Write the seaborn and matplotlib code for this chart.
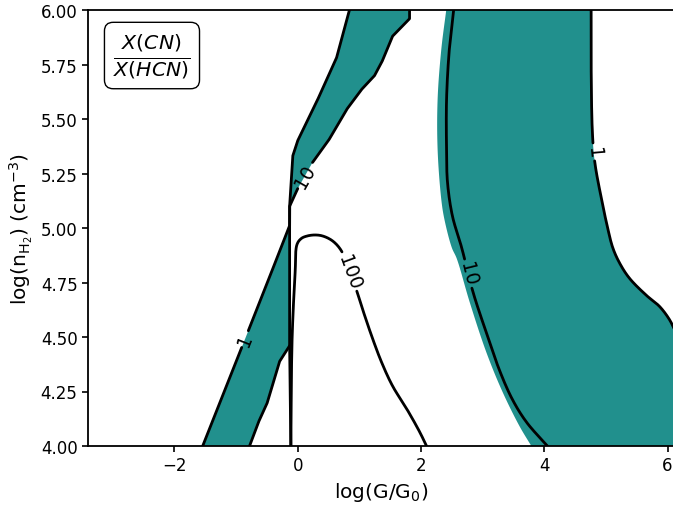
import numpy as np
import matplotlib
matplotlib.use("Agg")
import matplotlib.pyplot as plt
import seaborn as sns

# ---------------- data ----------------
# x = log(G/G0), y = log(n_H2)
# contour X(CN)/X(HCN) = 1, left branch
c1_left_x = [-1.54, -1.05, -0.63, -0.13, -0.13, -0.08, 0.00, 0.31, 0.63, 0.84]
c1_left_y = [4.00, 4.35, 4.65, 5.01, 5.10, 5.33, 5.40, 5.58, 5.78, 6.00]
# contour = 10, left branch (from top down)
c10_left_x = [1.815, 1.815, 1.54, 1.38, 1.25, 1.05, 0.81, 0.52, 0.24, 0.00, -0.13,
              -0.13, -0.29, -0.49, -0.62, -0.78]
c10_left_y = [6.00, 5.96, 5.88, 5.77, 5.70, 5.64, 5.55, 5.41, 5.30, 5.18, 5.10,
              4.46, 4.39, 4.20, 4.12, 4.00]
# short vertical contour piece at the grid edge
c10_stub_x = [-0.13, -0.12, -0.11]
c10_stub_y = [4.46, 4.20, 4.00]
# contour = 100
c100_x = [-0.11, -0.09, -0.04, -0.01, 0.06, 0.15, 0.28, 0.41, 0.57, 0.71, 0.84, 0.96, 1.05,
          1.20, 1.36, 1.54, 1.77, 1.98, 2.09]
c100_y = [4.00, 4.49, 4.80, 4.925, 4.952, 4.963, 4.968, 4.963, 4.94, 4.895, 4.80, 4.71, 4.63,
          4.505, 4.385, 4.275, 4.17, 4.064, 4.00]
# contour = 10, right branch
c10_right_x = [2.53, 2.46, 2.415, 2.415, 2.43, 2.51, 2.66, 2.84, 3.06, 3.27, 3.48, 3.71, 4.05]
c10_right_y = [6.00, 5.82, 5.59, 5.36, 5.21, 5.055, 4.91, 4.71, 4.52, 4.35, 4.215, 4.11, 4.00]
# contour = 1, right branch
c1_right_x = [4.76, 4.76, 4.78, 4.82, 4.93, 5.02, 5.11, 5.22, 5.38, 5.66, 5.87, 6.03, 6.12]
c1_right_y = [6.00, 5.75, 5.44, 5.30, 5.13, 5.01, 4.91, 4.84, 4.77, 4.69, 4.64, 4.58, 4.53]
# left edge of the filled (1-10) region on the right
fill_right_edge_x = [2.41, 2.33, 2.27, 2.27, 2.33, 2.38, 2.50, 2.58, 2.79, 3.06, 3.32, 3.60, 3.79]
fill_right_edge_y = [6.00, 5.82, 5.59, 5.36, 5.13, 5.04, 4.91, 4.86, 4.66, 4.43, 4.25, 4.09, 4.00]

# contour labels: text and position on the line
label_text = ["1", "10", "100", "10", "1"]
label_x = [-0.86, 0.12, 0.84, 2.76, 4.80]
label_y = [4.49, 5.24, 4.80, 4.79, 5.35]

x_lim = (-3.4, 6.12)
y_lim = (4.0, 6.0)
x_ticks = [-2, 0, 2, 4, 6]
y_ticks = [4.00, 4.25, 4.50, 4.75, 5.00, 5.25, 5.50, 5.75, 6.00]

# ---------------- figure ----------------
sns.set_style("ticks")
plt.rcParams['font.family'] = ['DejaVu Sans']
plt.rcParams['mathtext.fontset'] = 'dejavusans'
for k in ['text.color', 'axes.labelcolor', 'xtick.color', 'ytick.color', 'axes.edgecolor']:
    plt.rcParams[k] = 'black'

fig = plt.figure(figsize=(6.73, 5.06), dpi=100)
ax = fig.add_axes([88 / 673, 59 / 506, 587 / 673, 436 / 506])
ax.set_xlim(*x_lim)
ax.set_ylim(*y_lim)


def smooth(xs, ys, n=12):
    """centripetal Catmull-Rom through the points (in display space)."""
    P = ax.transData.transform(np.column_stack([xs, ys]))
    P = np.vstack([2 * P[0] - P[1], P, 2 * P[-1] - P[-2]])
    out = [P[1]]
    for i in range(1, len(P) - 2):
        p0, p1, p2, p3 = P[i - 1], P[i], P[i + 1], P[i + 2]
        t0 = 0.0
        t1 = t0 + max(np.linalg.norm(p1 - p0), 1e-6) ** 0.5
        t2 = t1 + max(np.linalg.norm(p2 - p1), 1e-6) ** 0.5
        t3 = t2 + max(np.linalg.norm(p3 - p2), 1e-6) ** 0.5
        for t in np.linspace(t1, t2, n + 1)[1:]:
            a1 = (t1 - t) / (t1 - t0) * p0 + (t - t0) / (t1 - t0) * p1
            a2 = (t2 - t) / (t2 - t1) * p1 + (t - t1) / (t2 - t1) * p2
            a3 = (t3 - t) / (t3 - t2) * p2 + (t - t2) / (t3 - t2) * p3
            b1 = (t2 - t) / (t2 - t0) * a1 + (t - t0) / (t2 - t0) * a2
            b2 = (t3 - t) / (t3 - t1) * a2 + (t - t1) / (t3 - t1) * a3
            c = (t2 - t) / (t2 - t1) * b1 + (t - t1) / (t2 - t1) * b2
            out.append(c)
    D = ax.transData.inverted().transform(np.array(out))
    return D[:, 0], D[:, 1]


teal = '#21908d'
# left filled band (between levels 1 and 10)
ax.fill(np.r_[c1_left_x, c10_left_x], np.r_[c1_left_y, c10_left_y],
        color=teal, lw=0, zorder=1)
# right filled band
ex, ey = smooth(fill_right_edge_x, fill_right_edge_y)
rx, ry = smooth(c1_right_x, c1_right_y)
ax.fill(np.r_[ex, [x_lim[1] + 0.5], rx[::-1]],
        np.r_[ey, [y_lim[0]], ry[::-1]],
        color=teal, lw=0, zorder=1)

LW = 2.0
LABEL_FS = 13.5


def draw_contour(xs, ys, labels=(), smooth_line=False):
    if smooth_line:
        xs, ys = smooth(xs, ys)
    pts = ax.transData.transform(np.column_stack([xs, ys]))
    seg = np.hypot(*np.diff(pts, axis=0).T)
    s = np.r_[0, np.cumsum(seg)]
    sd = np.r_[np.arange(0, s[-1], 0.5), s[-1]]
    dx = np.interp(sd, s, pts[:, 0])
    dy = np.interp(sd, s, pts[:, 1])
    keep = np.ones_like(sd, dtype=bool)
    for txt, lx, ly in labels:
        lp = ax.transData.transform((lx, ly))
        i = int(np.argmin(np.hypot(dx - lp[0], dy - lp[1])))
        half = 0.5 * len(txt) * 0.636 * LABEL_FS * fig.dpi / 72 + 3
        keep &= np.abs(sd - sd[i]) > half
        j0 = max(i - 8, 0)
        j1 = min(i + 8, len(sd) - 1)
        ang = np.degrees(np.arctan2(dy[j1] - dy[j0], dx[j1] - dx[j0]))
        if ang > 90:
            ang -= 180
        if ang < -90:
            ang += 180
        tx, ty = ax.transData.inverted().transform((dx[i], dy[i]))
        ax.text(tx, ty, txt, rotation=ang, rotation_mode='anchor',
                ha='center', va='center', fontsize=LABEL_FS, color='black', zorder=4)
    data = ax.transData.inverted().transform(np.column_stack([dx, dy]))
    idx = np.where(keep)[0]
    if len(idx) == 0:
        return
    breaks = np.where(np.diff(idx) > 1)[0]
    starts = np.r_[0, breaks + 1]
    ends = np.r_[breaks, len(idx) - 1]
    for a, b in zip(starts, ends):
        sel = idx[a:b + 1]
        sns.lineplot(x=data[sel, 0], y=data[sel, 1], sort=False, estimator=None,
                     color='black', lw=LW, ax=ax, zorder=3)


lab = list(zip(label_text, label_x, label_y))
draw_contour(c1_left_x, c1_left_y, [lab[0]])
draw_contour(c10_left_x, c10_left_y, [lab[1]])
draw_contour(c10_stub_x, c10_stub_y)
draw_contour(c100_x, c100_y, [lab[2]], smooth_line=True)
draw_contour(c10_right_x, c10_right_y, [lab[3]], smooth_line=True)
draw_contour(c1_right_x, c1_right_y, [lab[4]], smooth_line=True)

ax.set_xlim(*x_lim)
ax.set_ylim(*y_lim)
ax.set_xticks(x_ticks)
ax.set_yticks(y_ticks)
ax.set_yticklabels([f"{v:.2f}" for v in y_ticks])
ax.tick_params(labelsize=12, width=1.2, length=4, colors='black')
for sp in ax.spines.values():
    sp.set_linewidth(1.3)
    sp.set_color('black')
ax.set_xlabel(r'log(G/G$_0$)', fontsize=14.5)
ax.set_ylabel(r'log(n$_{\mathrm{H_2}}$) (cm$^{-3}$)', fontsize=14.5)

ax.text(0.109, 0.8956, r'$\frac{X(CN)}{X(HCN)}$', transform=ax.transAxes,
        ha='center', va='center', fontsize=21,
        bbox=dict(boxstyle='round,pad=0.3', facecolor='white', edgecolor='black', lw=1.0),
        zorder=5)

fig.savefig('out.png', dpi=100)
